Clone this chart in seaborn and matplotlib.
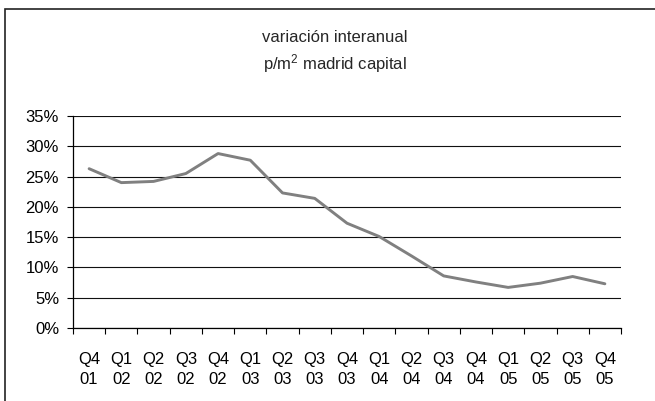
import matplotlib
matplotlib.use("Agg")
import matplotlib.pyplot as plt
import matplotlib.patches as mpatches
from matplotlib.ticker import PercentFormatter, FixedLocator, MultipleLocator
import seaborn as sns
import pandas as pd
import numpy as np

quarters = ["Q4\n01", "Q1\n02", "Q2\n02", "Q3\n02", "Q4\n02", "Q1\n03", "Q2\n03", "Q3\n03",
            "Q4\n03", "Q1\n04", "Q2\n04", "Q3\n04", "Q4\n04", "Q1\n05", "Q2\n05", "Q3\n05", "Q4\n05"]
variacion = [26.3, 24.0, 24.2, 25.5, 28.8, 27.7, 22.3, 21.4,
             17.3, 15.1, 11.9, 8.6, 7.6, 6.7, 7.4, 8.5, 7.3]
title_lines = ["variación interanual", r"p/m$^{2}$ madrid capital"]

sns.set_style("white")
plt.rcParams["font.family"] = ["Liberation Sans", "DejaVu Sans"]
plt.rcParams["mathtext.fontset"] = "custom"
plt.rcParams["mathtext.rm"] = "Liberation Sans"
plt.rcParams["mathtext.it"] = "Liberation Sans"

FS = 12
W, H = 655, 401
fig = plt.figure(figsize=(W / 100, H / 100), dpi=100)
fig.patch.set_facecolor("white")

# outer chart frame
frame = mpatches.Rectangle((5 / W, -0.05), 1.1, (H - 9) / H + 0.05,
                           transform=fig.transFigure, fill=False,
                           edgecolor="#222222", linewidth=1.2, clip_on=False)
fig.patches.append(frame)

ax = fig.add_axes([73 / W, 1 - 328 / H, (621 - 73) / W, (328 - 116) / H])

df = pd.DataFrame({"pos": np.arange(len(quarters)), "variacion": variacion})
sns.lineplot(data=df, x="pos", y="variacion", ax=ax, color="#808080", linewidth=2.1)

ax.set_xlim(-0.5, len(quarters) - 0.5)
ax.set_ylim(0, 35)
ax.yaxis.set_major_locator(MultipleLocator(5))
ax.yaxis.set_major_formatter(PercentFormatter(decimals=0))
ax.grid(axis="y", color="#111111", linewidth=0.8)
ax.grid(axis="x", visible=False)

ax.xaxis.set_major_locator(FixedLocator(np.arange(len(quarters))))
ax.set_xticklabels(quarters, linespacing=1.45)
ax.xaxis.set_minor_locator(FixedLocator(np.arange(len(quarters) + 1) - 0.5))
ax.tick_params(axis="x", which="major", length=0, pad=17, labelsize=FS, colors="black")
ax.tick_params(axis="x", which="minor", length=4, width=0.8, direction="out",
               color="black", bottom=True)
ax.tick_params(axis="y", which="major", length=4, width=0.8, direction="out",
               left=True, labelsize=FS, pad=6, colors="black")

for s in ["top", "right"]:
    ax.spines[s].set_visible(False)
for s in ["left", "bottom"]:
    ax.spines[s].set_color("black")
    ax.spines[s].set_linewidth(0.9)

ax.set_xlabel("")
ax.set_ylabel("")

fig.text(335 / W, 1 - 37 / H, title_lines[0], ha="center", va="center", fontsize=FS)
fig.text(335 / W, 1 - 64 / H, title_lines[1], ha="center", va="center", fontsize=FS)

fig.savefig("out.png", dpi=100, facecolor="white")
